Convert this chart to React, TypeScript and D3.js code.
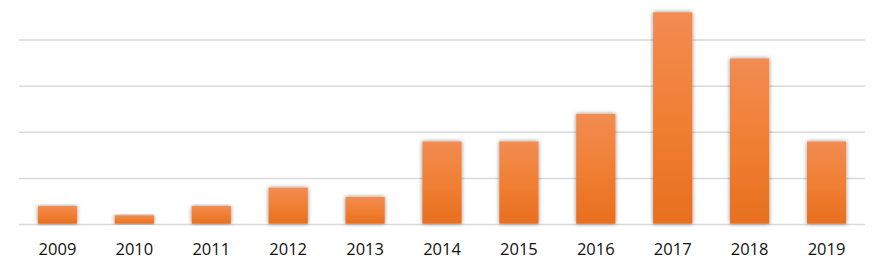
import React from "react";
import * as d3 from "d3";

const years = ["2009", "2010", "2011", "2012", "2013", "2014", "2015", "2016", "2017", "2018", "2019"];
const counts = [2, 1, 2, 4, 3, 9, 9, 12, 23, 18, 9];
const gridValues = [0, 5, 10, 15, 20];

export default function App() {
  const W = 882, H = 263;
  const x = d3.scaleBand<string>().domain(years).range([19, 865]).paddingInner(0.49).paddingOuter(0.245);
  const y = d3.scaleLinear().domain([0, 20]).range([224.5, 40]);
  return (
    <svg width={W} height={H} style={{ position: "absolute", left: 0, top: 0 }}>
      <defs>
        <linearGradient id="barGrad" x1="0" y1="0" x2="0" y2="1">
          <stop offset="0%" stopColor="#F28C52" />
          <stop offset="50%" stopColor="#F07F33" />
          <stop offset="100%" stopColor="#E86F1F" />
        </linearGradient>
        <filter id="shadow" x="-30%" y="-10%" width="160%" height="120%">
          <feGaussianBlur in="SourceAlpha" stdDeviation="2.2" result="blur" />
          <feFlood floodColor="#000" floodOpacity="0.45" />
          <feComposite in2="blur" operator="in" result="sh" />
          <feMerge>
            <feMergeNode in="sh" />
            <feMergeNode in="SourceGraphic" />
          </feMerge>
        </filter>
      </defs>
      {gridValues.map((v) => (
        <line key={v} x1={19} x2={865} y1={y(v)} y2={y(v)} stroke="#d9d9d9" strokeWidth={1.5} />
      ))}
      {years.map((yr, i) => (
        <rect
          key={yr}
          x={x(yr)}
          y={y(counts[i])}
          width={x.bandwidth()}
          height={y(0) - y(counts[i]) - 0.8}
          fill="url(#barGrad)"
          filter="url(#shadow)"
        />
      ))}
      {years.map((yr) => (
        <text
          key={yr}
          x={(x(yr) as number) + x.bandwidth() / 2}
          y={255}
          textAnchor="middle"
          fontFamily="'Open Sans', sans-serif"
          fontSize={16.5}
          fill="#111"
        >
          {yr}
        </text>
      ))}
    </svg>
  );
}
